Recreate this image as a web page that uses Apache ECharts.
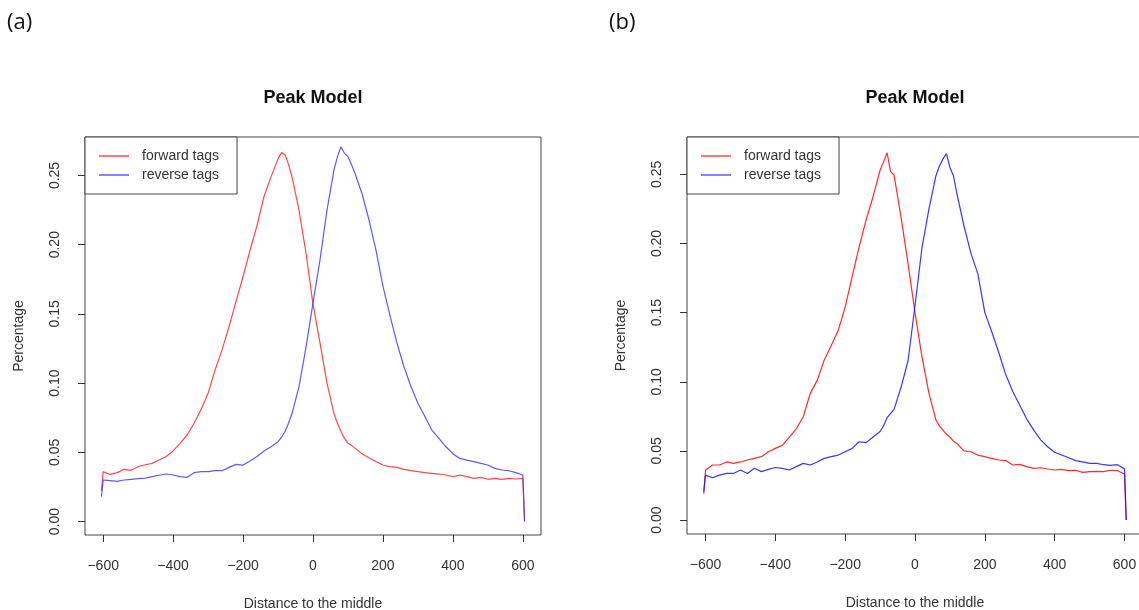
<!DOCTYPE html>
<html>
<head>
<meta charset="utf-8">
<title>Peak Model</title>
<script src="https://cdn.jsdelivr.net/npm/echarts@6/dist/echarts.min.js"></script>
<style>
  html, body { margin: 0; padding: 0; background: #fff; }
  #chart { width: 1139px; height: 610px; }
</style>
</head>
<body>
<div id="chart"></div>
<script>
// distance to the middle (shared x positions of both panels)
const positions = [-605, -600, -580, -560, -540, -520, -500, -480, -460, -440, -420, -400, -380, -360, -340, -320, -300,
  -280, -260, -240, -220, -200, -180, -160, -140, -120, -100, -90, -80, -70, -60, -40, -20, 0, 20, 40, 60, 70, 80, 90,
  100, 110, 120, 140, 160, 180, 200, 220, 240, 260, 280, 300, 320, 340, 360, 380, 400, 420, 440, 460, 480, 500, 520,
  540, 560, 580, 600, 605]

// panel (a)
const forwardA = [0.022, 0.036, 0.034, 0.0353, 0.0377, 0.037, 0.0396, 0.041, 0.042, 0.0444, 0.047, 0.051, 0.0565, 0.0625,
  0.071, 0.081, 0.0926, 0.1095, 0.124, 0.141, 0.159, 0.177, 0.196, 0.214, 0.235, 0.249, 0.262, 0.2665, 0.265, 0.258,
  0.249, 0.225, 0.194, 0.157, 0.129, 0.100, 0.078, 0.071, 0.065, 0.060, 0.0565, 0.055, 0.053, 0.049, 0.046, 0.0433,
  0.0408, 0.0396, 0.0391, 0.0377, 0.0367, 0.036, 0.0353, 0.0348, 0.0343, 0.0336, 0.0324, 0.0336, 0.0324, 0.0312,
  0.0319, 0.0305, 0.0312, 0.0305, 0.0312, 0.0307, 0.0312, 0]
const reverseA = [0.018, 0.030, 0.0295, 0.029, 0.030, 0.0305, 0.031, 0.0314, 0.0324, 0.0334, 0.0343, 0.0336, 0.0324,
  0.0319, 0.0353, 0.036, 0.036, 0.0367, 0.0367, 0.0391, 0.0413, 0.0408, 0.0437, 0.0469, 0.051, 0.054, 0.0577, 0.061,
  0.065, 0.071, 0.078, 0.0975, 0.126, 0.158, 0.189, 0.225, 0.254, 0.2636, 0.2708, 0.266, 0.2636, 0.258, 0.2516, 0.237,
  0.218, 0.196, 0.170, 0.149, 0.129, 0.112, 0.0975, 0.0854, 0.0758, 0.066, 0.060, 0.054, 0.049, 0.0456, 0.0444,
  0.0433, 0.042, 0.0408, 0.0384, 0.0372, 0.0367, 0.0353, 0.0336, 0]

// panel (b)
const forwardB = [0.019, 0.036, 0.0398, 0.0398, 0.042, 0.041, 0.042, 0.0434, 0.0446, 0.0458, 0.0494, 0.0518, 0.054, 0.060,
  0.066, 0.0747, 0.0916, 0.101, 0.1157, 0.126, 0.137, 0.154, 0.176, 0.1976, 0.217, 0.234, 0.253, 0.259, 0.2656, 0.252,
  0.2495, 0.219, 0.1856, 0.150, 0.118, 0.0916, 0.0723, 0.068, 0.065, 0.062, 0.060, 0.057, 0.0554, 0.050, 0.0494,
  0.047, 0.0458, 0.0446, 0.0434, 0.043, 0.0398, 0.0402, 0.0386, 0.0374, 0.0378, 0.0369, 0.0362, 0.0366, 0.0357,
  0.036, 0.0345, 0.035, 0.0352, 0.035, 0.036, 0.0357, 0.0333, 0]
const reverseB = [0.0205, 0.0325, 0.0306, 0.0325, 0.0337, 0.0337, 0.0362, 0.0337, 0.0374, 0.035, 0.0366, 0.038, 0.0374,
  0.0362, 0.0386, 0.041, 0.0398, 0.042, 0.0446, 0.0458, 0.047, 0.0494, 0.0518, 0.0566, 0.056, 0.060, 0.064, 0.068,
  0.074, 0.077, 0.080, 0.096, 0.115, 0.155, 0.197, 0.225, 0.249, 0.256, 0.261, 0.265, 0.255, 0.249, 0.236, 0.213,
  0.193, 0.178, 0.150, 0.136, 0.121, 0.105, 0.093, 0.083, 0.073, 0.065, 0.058, 0.053, 0.049, 0.047, 0.045, 0.043,
  0.042, 0.041, 0.041, 0.040, 0.0395, 0.040, 0.037, 0]

const xTicks = [-600, -400, -200, 0, 200, 400, 600]
const yTicks = [0, 0.05, 0.1, 0.15, 0.2, 0.25]

const font = "'Liberation Sans', Arial, sans-serif"
const ink = "#333"

function pairs(ys) {
  return positions.map((x, i) => [x, ys[i]])
}

function xAxisFor(gridIndex, lim) {
  return {
    type: "value",
    gridIndex: gridIndex,
    min: -lim,
    max: lim,
    splitLine: { show: false },
    axisLine: { show: false, onZero: false },
    axisTick: { show: true, inside: false, length: 7, customValues: xTicks, lineStyle: { color: ink } },
    axisLabel: {
      customValues: xTicks,
      margin: 24,
      fontFamily: font,
      fontSize: 14,
      color: ink,
      formatter: (v) => String(v).replace("-", "\u2212"),
    },
    name: "Distance to the middle",
    nameLocation: "middle",
    nameGap: 62,
    nameTextStyle: { fontFamily: font, fontSize: 14, color: ink },
  }
}

function yAxisFor(gridIndex, lo, hi) {
  return {
    type: "value",
    gridIndex: gridIndex,
    min: lo,
    max: hi,
    splitLine: { show: false },
    axisLine: { show: false, onZero: false },
    axisTick: { show: true, inside: false, length: 7, customValues: yTicks, lineStyle: { color: ink } },
    axisLabel: {
      customValues: yTicks,
      rotate: 90,
      margin: 23,
      fontFamily: font,
      fontSize: 14,
      color: ink,
      formatter: (v) => v.toFixed(2),
    },
    name: "Percentage",
    nameLocation: "middle",
    nameRotate: 90,
    nameGap: 59,
    nameTextStyle: { fontFamily: font, fontSize: 14, color: ink },
  }
}

function lineSeries(name, ys, idx, color) {
  return {
    name: name,
    type: "line",
    xAxisIndex: idx,
    yAxisIndex: idx,
    data: pairs(ys),
    symbol: "none",
    smooth: false,
    lineStyle: { color: color, width: 1.2 },
    itemStyle: { color: color },
    silent: true,
    animation: false,
  }
}

function legendFor(left) {
  return {
    orient: "vertical",
    left: left,
    top: 137,
    padding: [12, 18, 12, 14],
    itemGap: 5,
    icon: "rect",
    itemWidth: 30,
    itemHeight: 1.5,
    borderColor: "#444",
    borderWidth: 1,
    borderRadius: 0,
    backgroundColor: "#fff",
    selectedMode: false,
    textStyle: { fontFamily: font, fontSize: 14, color: ink, padding: [0, 0, 0, 8] },
    data: ["forward tags", "reverse tags"],
  }
}

function gridAt(left, height) {
  return {
    left: left,
    top: 137,
    width: 456,
    height: height,
    outerBoundsMode: "none",
    containLabel: false,
    show: true,
    borderColor: "#444",
    borderWidth: 1,
    backgroundColor: "transparent",
  }
}

const panelLabel = { fontFamily: "'Open Sans', sans-serif", fontSize: 22, fontWeight: "normal", color: "#111" }
const titleStyle = { fontFamily: font, fontSize: 18, fontWeight: "bold", color: "#111" }

const chart = echarts.init(document.getElementById("chart"))
chart.setOption({
  animation: false,
  backgroundColor: "#fff",
  title: [
    { text: "(a)", left: 7, top: 12, padding: 0, textStyle: panelLabel },
    { text: "(b)", left: 609, top: 12, padding: 0, textStyle: panelLabel },
    { text: "Peak Model", left: 313, top: 89, textAlign: "center", padding: 0, textStyle: titleStyle },
    { text: "Peak Model", left: 915, top: 89, textAlign: "center", padding: 0, textStyle: titleStyle },
  ],
  legend: [legendFor(85), legendFor(687)],
  grid: [gridAt(85, 398), gridAt(687, 397)],
  xAxis: [xAxisFor(0, 652), xAxisFor(1, 653)],
  yAxis: [yAxisFor(0, -0.00975, 0.2778), yAxisFor(1, -0.0101, 0.277)],
  series: [
    lineSeries("forward tags", forwardA, 0, "rgba(255,40,40,0.85)"),
    lineSeries("reverse tags", reverseA, 0, "rgba(50,50,255,0.8)"),
    lineSeries("forward tags", forwardB, 1, "rgba(255,20,20,0.9)"),
    lineSeries("reverse tags", reverseB, 1, "rgba(20,20,255,0.85)"),
  ],
})
</script>
</body>
</html>
